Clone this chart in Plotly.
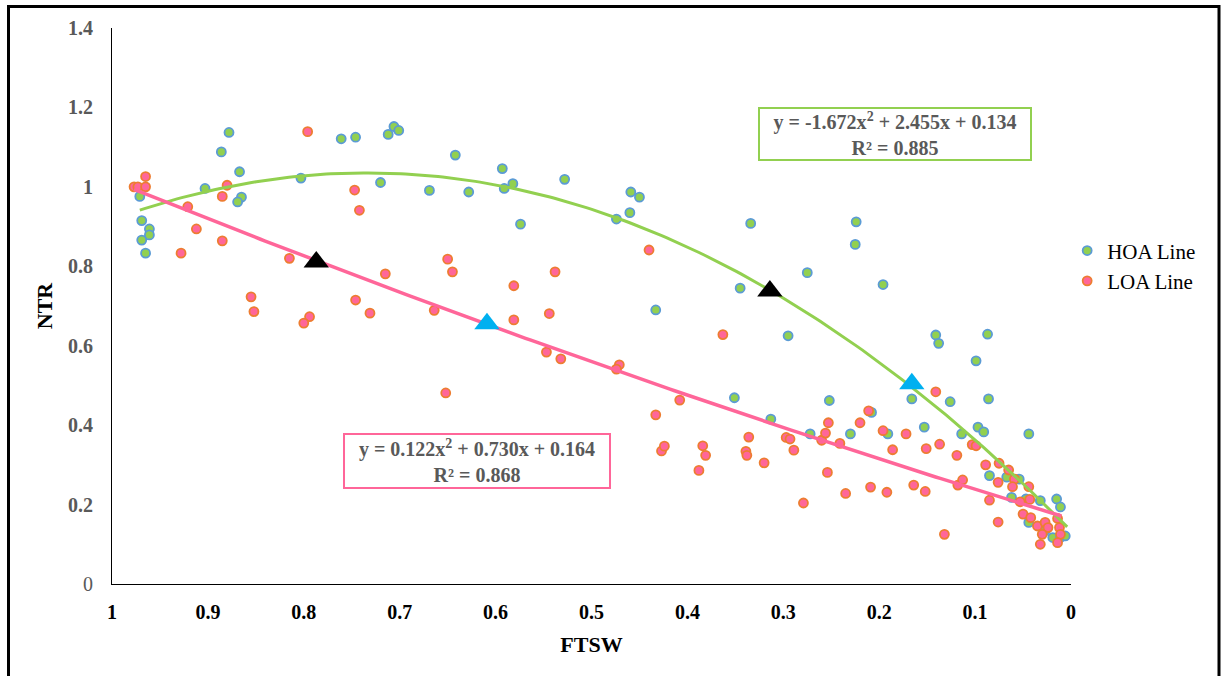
import numpy as np
import plotly.graph_objects as go

# ---------------- data ----------------
hoa_ftsw = [0.971, 0.969, 0.961, 0.961, 0.969, 0.965, 0.903, 0.886, 0.878, 0.867, 0.865, 0.869,
            0.803, 0.761, 0.746, 0.720, 0.712, 0.706, 0.701, 0.669, 0.642, 0.628, 0.593, 0.582,
            0.591, 0.528, 0.574, 0.474, 0.460, 0.459, 0.450, 0.433, 0.351, 0.345, 0.334, 0.313,
            0.295, 0.275, 0.272, 0.252, 0.230, 0.225, 0.224, 0.208, 0.196, 0.191, 0.166, 0.153,
            0.141, 0.138, 0.126, 0.114, 0.099, 0.097, 0.091, 0.087, 0.086, 0.044, 0.085, 0.067,
            0.054, 0.062, 0.047, 0.032, 0.015, 0.011, 0.044, 0.027, 0.019, 0.011, 0.006]
hoa_ntr = [0.976, 0.915, 0.894, 0.879, 0.866, 0.833, 0.996, 1.088, 1.137, 1.038, 0.974, 0.962,
           1.022, 1.121, 1.125, 1.011, 1.132, 1.152, 1.142, 0.991, 1.080, 0.987, 1.046, 1.008,
           0.996, 1.019, 0.906, 0.919, 0.935, 0.987, 0.974, 0.690, 0.469, 0.745, 0.908, 0.415,
           0.625, 0.784, 0.378, 0.462, 0.378, 0.855, 0.912, 0.432, 0.754, 0.378, 0.466, 0.395,
           0.627, 0.606, 0.459, 0.378, 0.562, 0.395, 0.383, 0.629, 0.466, 0.378, 0.273, 0.269,
           0.264, 0.218, 0.214, 0.210, 0.214, 0.194, 0.155, 0.134, 0.117, 0.117, 0.121]

loa_ftsw = [0.977, 0.973, 0.965, 0.965, 0.921, 0.912, 0.885, 0.880, 0.885, 0.928, 0.796, 0.815,
            0.747, 0.742, 0.715, 0.855, 0.852, 0.746, 0.731, 0.794, 0.800, 0.664, 0.650, 0.645,
            0.538, 0.581, 0.544, 0.581, 0.440, 0.547, 0.532, 0.471, 0.474, 0.652, 0.363, 0.408,
            0.433, 0.427, 0.424, 0.384, 0.381, 0.388, 0.339, 0.338, 0.336, 0.320, 0.297, 0.293,
            0.289, 0.279, 0.260, 0.256, 0.253, 0.254, 0.241, 0.235, 0.220, 0.211, 0.209, 0.196,
            0.192, 0.186, 0.172, 0.164, 0.152, 0.151, 0.141, 0.137, 0.132, 0.119, 0.118, 0.113,
            0.103, 0.099, 0.089, 0.075, 0.065, 0.076, 0.085, 0.076, 0.059, 0.061, 0.044, 0.053,
            0.043, 0.050, 0.042, 0.035, 0.027, 0.024, 0.014, 0.012, 0.030, 0.011, 0.032, 0.014]
loa_ntr = [1.000, 1.000, 1.000, 1.026, 0.950, 0.894, 0.976, 1.004, 0.864, 0.833, 1.139, 0.820,
           0.992, 0.941, 0.781, 0.723, 0.686, 0.715, 0.682, 0.673, 0.657, 0.689, 0.818, 0.786,
           0.786, 0.751, 0.681, 0.665, 0.841, 0.584, 0.567, 0.552, 0.541, 0.481, 0.628, 0.463,
           0.426, 0.335, 0.347, 0.348, 0.324, 0.286, 0.334, 0.324, 0.370, 0.305, 0.369, 0.365,
           0.337, 0.204, 0.362, 0.380, 0.406, 0.281, 0.354, 0.228, 0.406, 0.436, 0.244, 0.386,
           0.231, 0.338, 0.378, 0.249, 0.233, 0.341, 0.484, 0.352, 0.125, 0.324, 0.249, 0.262,
           0.351, 0.348, 0.300, 0.304, 0.287, 0.256, 0.211, 0.156, 0.264, 0.245, 0.245, 0.207,
           0.213, 0.176, 0.167, 0.146, 0.155, 0.142, 0.165, 0.142, 0.125, 0.125, 0.100, 0.104]

# trendline coefficients as printed on the chart (a2, a1, a0) and fitted ranges
hoa_coef = [-1.672, 2.455, 0.134]
loa_coef = [0.122, 0.730, 0.164]
hoa_r2 = "0.885"
loa_r2 = "0.868"
hoa_range = [0.004, 0.971]
loa_range = [0.010, 0.977]

# triangle markers
black_tri_ftsw = [0.787, 0.314]
black_tri_ntr = [0.811, 0.738]
blue_tri_ftsw = [0.609, 0.166]
blue_tri_ntr = [0.655, 0.504]

x_ticks = [1, 0.9, 0.8, 0.7, 0.6, 0.5, 0.4, 0.3, 0.2, 0.1, 0]
y_ticks = [0, 0.2, 0.4, 0.6, 0.8, 1, 1.2, 1.4]

# ---------------- styles ----------------
GREEN = "#92D050"
BLUE_EDGE = "#5B9BD5"
PINK = "#FF6699"
ORANGE_EDGE = "#ED7D31"
GRAY = "#595959"
FONT = "Liberation Serif"

fig = go.Figure()

fig.add_trace(go.Scatter(
    x=hoa_ftsw, y=hoa_ntr, mode="markers", name="HOA Line",
    marker=dict(size=9, color=GREEN, line=dict(color=BLUE_EDGE, width=1.8)),
))
fig.add_trace(go.Scatter(
    x=loa_ftsw, y=loa_ntr, mode="markers", name="LOA Line",
    marker=dict(size=9, color=PINK, line=dict(color=ORANGE_EDGE, width=1.8)),
))

def poly_curve(coef, rng):
    xs = np.linspace(rng[0], rng[1], 200)
    return xs, coef[0] * xs ** 2 + coef[1] * xs + coef[2]

hx, hy = poly_curve(hoa_coef, hoa_range)
lx, ly = poly_curve(loa_coef, loa_range)
fig.add_trace(go.Scatter(x=hx, y=hy, mode="lines", line=dict(color=GREEN, width=3),
                         showlegend=False, hoverinfo="skip"))
fig.add_trace(go.Scatter(x=lx, y=ly, mode="lines", line=dict(color=PINK, width=3.5),
                         showlegend=False, hoverinfo="skip"))

fig.add_trace(go.Scatter(x=black_tri_ftsw, y=black_tri_ntr, mode="markers",
                         marker=dict(symbol="triangle-up", size=22, color="black"),
                         showlegend=False))
fig.add_trace(go.Scatter(x=blue_tri_ftsw, y=blue_tri_ntr, mode="markers",
                         marker=dict(symbol="triangle-up", size=22, color="#00B0F0"),
                         showlegend=False))

def eq_text(coef, r2):
    a2, a1, a0 = coef
    return f"<b>y = {a2:.3f}x<sup>2</sup> + {a1:.3f}x + {a0:.3f}<br>R² = {r2}</b>"

fig.add_annotation(x=0.184, y=1.133, xref="x", yref="y", text=eq_text(hoa_coef, hoa_r2),
                   showarrow=False, font=dict(family=FONT, size=20, color=GRAY),
                   width=268, height=48, borderpad=1,
                   bordercolor=GREEN, borderwidth=2, bgcolor="white", align="center")
fig.add_annotation(x=0.619, y=0.310, xref="x", yref="y", text=eq_text(loa_coef, loa_r2),
                   showarrow=False, font=dict(family=FONT, size=20, color=GRAY),
                   width=262, height=50, borderpad=1,
                   bordercolor=PINK, borderwidth=2, bgcolor="white", align="center")

# outer frame
fig.add_shape(type="rect", xref="paper", yref="paper",
              x0=(8.5 - 112) / 959, x1=(1219 - 112) / 959,
              y0=(584 - 690) / 556, y1=(584 - 6.5) / 556,
              line=dict(color="black", width=3), fillcolor="rgba(0,0,0,0)", layer="above")

fig.update_layout(
    width=1225, height=676,
    margin=dict(l=112, r=154, t=28, b=92),
    paper_bgcolor="white", plot_bgcolor="white",
    font=dict(family=FONT, color="black"),
    legend=dict(x=0.996, y=0.636, xanchor="left", yanchor="top",
                font=dict(family=FONT, size=21, color="black"),
                bgcolor="rgba(0,0,0,0)", itemwidth=30, tracegroupgap=0),
    xaxis=dict(
        range=[1, 0], tickvals=x_ticks,
        ticktext=[f"<b>{v:g}</b>" for v in x_ticks],
        tickfont=dict(family=FONT, size=20, color="black"),
        showgrid=False, zeroline=False, showline=True, linecolor="black", linewidth=1,
        ticks="", ticklabelstandoff=10,
        title=dict(text="<b>FTSW</b>", font=dict(family=FONT, size=22, color="black"), standoff=14),
    ),
    yaxis=dict(
        range=[0, 1.4], tickvals=y_ticks,
        ticktext=[("0" if v == 0 else f"<b>{v:g}</b>") for v in y_ticks],
        tickfont=dict(family=FONT, size=20, color=GRAY),
        showgrid=False, zeroline=False, showline=True, linecolor="black", linewidth=1,
        ticks="", ticklabelstandoff=14,
        title=dict(text="<b>NTR</b>", font=dict(family=FONT, size=22, color="black"), standoff=9),
    ),
)

fig.write_html("out.html")
